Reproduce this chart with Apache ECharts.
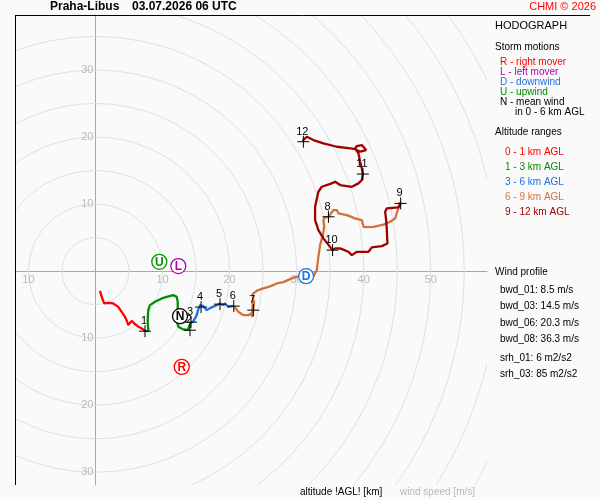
<!DOCTYPE html>
<html lang="cs">
<head>
    <meta http-equiv="Content-Type" content="text/html" charset="UTF-8">
    <script type="text/javascript" src="https://cdn.jsdelivr.net/npm/echarts@6/dist/echarts.min.js"></script>
    <style>
        html, body { margin: 0; padding: 0; background: #fafafa; }
        #hodograph { width: 600px; height: 500px; }
    </style>
</head>
<body>
<div id="hodograph"></div>
<script type="text/javascript">
    // wind components u, v [m/s]
    var ringRadii = [5, 10, 15, 20, 25, 30, 35, 40, 45, 50, 55, 60, 65, 70, 75];
    var xTicks = [-10, 10, 20, 30, 40, 50];
    var yTicks = [-30, -20, -10, 10, 20, 30];

    var layer01 = [[0.67,-2.94],[1.01,-4.07],[1.31,-4.82],[1.91,-4.73],[2.66,-4.82],[3.40,-5.33],[3.91,-6.07],
        [4.40,-6.82],[4.75,-7.57],[4.90,-8.06],[5.40,-7.42],[5.79,-7.81],[6.30,-8.21],[6.90,-8.55],[7.28,-8.81],[7.39,-8.96]];
    var layer13 = [[7.39,-8.96],[7.88,-8.91],[7.79,-7.31],[7.88,-5.82],[8.13,-5.07],[8.88,-4.58],[9.88,-4.07],
        [10.63,-3.84],[11.61,-3.58],[12.12,-3.84],[12.27,-4.58],[12.27,-5.82],[12.12,-7.31],[12.36,-8.31],
        [13.10,-8.70],[13.85,-8.76],[14.10,-8.81],[13.96,-8.21],[14.25,-7.61]];
    var layer36 = [[14.25,-7.61],[14.55,-7.57],[15.10,-6.57],[15.30,-5.82],[15.60,-5.07],[16.04,-5.18],[16.60,-5.82],
        [17.09,-5.52],[17.34,-5.33],[18.09,-5.07],[18.58,-4.82],[19.03,-5.07],[19.33,-4.82],[19.82,-5.33],
        [20.57,-5.18],[20.63,-5.22]];
    var layer69 = [[20.63,-5.22],[21.31,-6.07],[22.06,-6.57],[22.81,-6.57],[23.21,-6.31],[23.40,-6.82],[23.51,-7.01],
        [23.66,-4.63],[23.43,-6.72],[23.66,-4.33],[23.36,-6.42],[23.51,-4.03],[23.43,-3.43],[24.10,-2.91],
        [25.04,-2.58],[26.04,-2.28],[27.04,-1.84],[28.03,-1.64],[29.03,-1.19],[29.78,-0.90],[30.52,-0.75],
        [31.42,-0.75],[32.51,-0.75],[33.01,0.15],[33.25,2.13],[33.51,3.88],[33.91,5.37],[34.10,6.61],
        [34.00,7.61],[34.25,8.06],[34.75,8.10],[35.49,9.10],[36.00,9.10],[36.24,8.61],[37.49,8.36],
        [38.73,7.87],[39.73,7.61],[39.88,7.01],[40.00,6.57],[41.46,6.61],[42.96,6.94],[43.96,7.36],
        [44.70,7.87],[45.00,8.85],[45.19,9.40],[45.45,10.30],[45.52,10.10]];
    var layer912 = [[45.52,10.10],[45.19,9.51],[43.46,9.36],[43.21,8.85],[43.36,7.61],[43.46,6.12],[43.55,4.13],
        [42.72,3.73],[41.22,3.54],[40.72,2.88],[38.99,2.88],[38.24,2.39],[37.73,2.88],[36.49,3.39],
        [35.75,3.39],[35.37,3.13],[34.00,4.88],[33.25,6.12],[32.76,7.61],[32.76,9.60],[33.25,11.84],
        [33.76,12.58],[35.25,13.09],[35.75,13.33],[36.49,12.84],[38.24,12.58],[39.22,13.09],[39.73,13.58],
        [39.88,14.48],[39.73,15.33],[39.48,16.31],[39.22,17.57],[38.73,18.31],[38.99,18.66],[39.73,18.81],
        [40.37,18.06],[39.48,17.81],[38.73,18.21],[37.99,18.31],[36.00,18.55],[34.00,19.06],[32.51,19.55],
        [31.52,20.04],[31.01,19.55],[31.01,19.30]];

    var heightMarks = [[7.39,-8.96],[14.10,-8.81],[14.25,-7.61],[15.75,-5.37],[18.58,-4.93],[20.63,-5.22],
        [23.55,-5.82],[34.75,8.10],[45.52,10.10],[35.37,3.13],[39.88,14.48],[31.01,19.30]];
    var heightLabels = ['1', '2', '3', '4', '5', '6', '7', '8', '9', '10', '11', '12'];

    var stormMotions = [[9.52,1.39],[12.36,0.75],[12.61,-6.72],[12.87,-14.28],[31.42,-0.75]];
    var stormLetters = ['U', 'L', 'N', 'R', 'D'];
    var stormColors = ['#009000', '#b000b0', '#000000', '#ff0000', '#2070e0'];

    var layerColors = ['#ff0000', '#009000', '#2070e0', '#d4703a', '#a00000'];
    var FONT = '"Liberation Sans", Arial, sans-serif';

    var chart = echarts.init(document.getElementById('hodograph'));

    function lineSeries(data, color) {
        return {
            type: 'line', data: data, showSymbol: false, silent: true, z: 4,
            lineStyle: {color: color, width: 2.3}, animation: false
        };
    }

    function tickSeries(data, isX) {
        return {
            type: 'scatter', symbolSize: 0, silent: true, z: 2, animation: false,
            data: data.map(function (t) { return isX ? [t, 0] : [0, t]; }),
            label: {
                show: true, color: '#aaaaaa', fontSize: 11, fontFamily: FONT,
                position: isX ? 'bottom' : 'left', distance: isX ? 3 : 2,
                formatter: function (p) { return String(Math.abs(isX ? p.value[0] : p.value[1])); }
            }
        };
    }

    var axisCommon = {
        type: 'value', scale: false,
        axisLine: {show: true, onZero: true, lineStyle: {color: '#a8a8a8', width: 1}},
        axisTick: {show: false}, axisLabel: {show: false}, splitLine: {show: false}
    };

    var legendTexts = [
        ['HODOGRAPH', 495, 26, '#000', 11],
        ['Storm motions', 495, 47, '#000', 10],
        ['R - right mover', 500, 62, '#ff0000', 10],
        ['L - left mover', 500, 72, '#b000b0', 10],
        ['D - downwind', 500, 82, '#2070e0', 10],
        ['U - upwind', 500, 92, '#009000', 10],
        ['N - mean wind', 500, 102, '#000', 10],
        ['in 0 - 6 km AGL', 515, 112, '#000', 10],
        ['Altitude ranges', 495, 132, '#000', 10],
        ['0 - 1 km AGL', 505, 152, layerColors[0], 10],
        ['1 - 3 km AGL', 505, 167, layerColors[1], 10],
        ['3 - 6 km AGL', 505, 182, layerColors[2], 10],
        ['6 - 9 km AGL', 505, 197, layerColors[3], 10],
        ['9 - 12 km AGL', 505, 212, layerColors[4], 10],
        ['Wind profile', 495, 272, '#000', 10],
        ['bwd_01: 8.5 m/s', 500, 290, '#000', 10],
        ['bwd_03: 14.5 m/s', 500, 306, '#000', 10],
        ['bwd_06: 20.3 m/s', 500, 323, '#000', 10],
        ['bwd_08: 36.3 m/s', 500, 339, '#000', 10],
        ['srh_01: 6 m2/s2', 500, 358, '#000', 10],
        ['srh_03: 85 m2/s2', 500, 374, '#000', 10],
        ['altitude !AGL! [km]', 300, 492, '#000', 10],
        ['wind speed [m/s]', 400, 492, '#b8b8b8', 10]
    ];

    var graphics = legendTexts.map(function (t) {
        return {
            type: 'text', x: t[1], y: t[2], silent: true,
            style: {text: t[0], fill: t[3], font: t[4] + 'px ' + FONT, verticalAlign: 'middle'}
        };
    });
    graphics.push({type: 'text', x: 596, y: 7, style: {text: 'CHMI \u00a9 2026', fill: '#ff0000', font: '11px ' + FONT, align: 'right', verticalAlign: 'middle'}});
    graphics.push({type: 'text', x: 50, y: 7, style: {text: 'Praha-Libus', fill: '#000', font: 'bold 12px ' + FONT, verticalAlign: 'middle'}});
    graphics.push({type: 'text', x: 132, y: 7, style: {text: '03.07.2026 06 UTC', fill: '#000', font: 'bold 12px ' + FONT, verticalAlign: 'middle'}});
    graphics.push({type: 'line', shape: {x1: 15, y1: 15.5, x2: 590, y2: 15.5}, style: {stroke: '#000', lineWidth: 1}, z: 10});
    graphics.push({type: 'line', shape: {x1: 15.5, y1: 15, x2: 15.5, y2: 485}, style: {stroke: '#000', lineWidth: 1}, z: 10});

    var option = {
        backgroundColor: '#fafafa',
        animation: false,
        grid: {left: 15, top: 15, width: 472, height: 470},
        xAxis: Object.assign({min: -12.0, max: 58.4}, axisCommon),
        yAxis: Object.assign({min: -31.9, max: 38.2}, axisCommon),
        graphic: graphics,
        series: [
            {
                type: 'custom', clip: true, silent: true, z: 1,
                data: ringRadii,
                renderItem: function (params, api) {
                    var c = api.coord([0, 0]);
                    var r = api.size([api.value(0), 0])[0];
                    return {type: 'circle', shape: {cx: c[0], cy: c[1], r: r},
                        style: {fill: 'none', stroke: '#e0e0e0', lineWidth: 1}};
                }
            },
            tickSeries(xTicks, true),
            tickSeries(yTicks, false),
            lineSeries(layer01, layerColors[0]),
            lineSeries(layer13, layerColors[1]),
            lineSeries(layer36, layerColors[2]),
            lineSeries(layer69, layerColors[3]),
            lineSeries(layer912, layerColors[4]),
            {
                type: 'custom', silent: true, z: 5, data: heightMarks,
                renderItem: function (params, api) {
                    var p = api.coord([api.value(0), api.value(1)]);
                    return {type: 'group', children: [
                        {type: 'line', shape: {x1: p[0] - 6, y1: p[1], x2: p[0] + 6, y2: p[1]}, style: {stroke: '#000', lineWidth: 1}},
                        {type: 'line', shape: {x1: p[0], y1: p[1] - 6, x2: p[0], y2: p[1] + 6}, style: {stroke: '#000', lineWidth: 1}},
                        {type: 'text', x: p[0] - 1, y: p[1] - 10, style: {text: heightLabels[params.dataIndex],
                            fill: '#000', font: '11px ' + FONT, align: 'center', verticalAlign: 'middle'}}
                    ]};
                }
            },
            {
                type: 'custom', silent: true, z: 6, data: stormMotions,
                renderItem: function (params, api) {
                    var p = api.coord([api.value(0), api.value(1)]);
                    var col = stormColors[params.dataIndex];
                    return {type: 'group', children: [
                        {type: 'circle', shape: {cx: p[0], cy: p[1], r: 7.5}, style: {fill: '#fff', stroke: col, lineWidth: 1.3}},
                        {type: 'text', x: p[0], y: p[1] + 0.5, style: {text: stormLetters[params.dataIndex],
                            fill: col, font: 'bold 12px ' + FONT, align: 'center', verticalAlign: 'middle'}}
                    ]};
                }
            }
        ]
    };
    chart.setOption(option);
</script>
</body>
</html>
